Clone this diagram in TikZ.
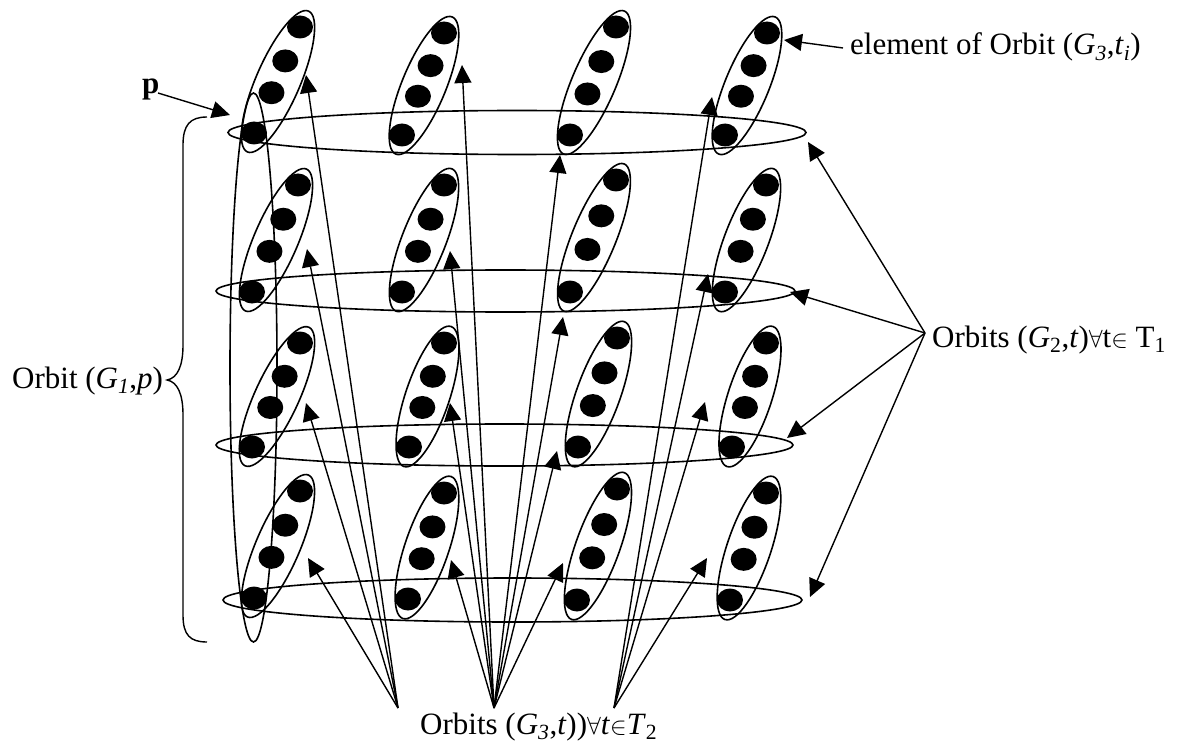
\documentclass[tikz,border=0pt]{standalone}
\usepackage{fontspec}
\setmainfont{Liberation Serif}
\usetikzlibrary{arrows.meta,calc}
\tikzset{
  ellline/.style={line width=1.6pt},
  arr/.style={line width=1.4pt,-{Triangle[length=18pt,width=17pt]}},
  lab/.style={inner sep=0pt, font=\fontsize{31}{36}\selectfont},
  dotfill/.style={fill=black},
}
\newcommand{\orbitcell}[5]{%
  \pgfmathsetmacro\cellang{atan2(#5-#3,#2-#4)}%
  \pgfmathsetmacro\cellhalf{0.5*veclen(#2-#4,#5-#3)+19}%
  \coordinate (#1t) at (#2,#3);
  \coordinate (#1b) at (#4,#5);
  \coordinate (#1c) at ($(#1b)!0.5!(#1t)+(1,1.5)$);
  \draw[ellline, rotate around={\cellang:(#1c)}] (#1c) ellipse [x radius=\cellhalf pt, y radius=22pt];
  \foreach \f in {0,0.38,0.68,1} \fill[dotfill] ($(#1b)!\f!(#1t)$) ellipse [x radius=13pt, y radius=11.5pt];
}
\begin{document}
\begin{tikzpicture}[x=1pt,y=-1pt]
\fill[white] (0,0) rectangle (1178,746);
\useasboundingbox (0,0) rectangle (1178,746);

% tilted orbit cells (top dot, bottom dot)
\orbitcell{r1c1}{300}{27}{254}{133}
\orbitcell{r1c2}{444}{33}{402}{135}
\orbitcell{r1c3}{616}{27}{570}{135}
\orbitcell{r1c4}{767}{33}{725}{135}
\orbitcell{r2c1}{298}{185}{252}{292}
\orbitcell{r2c2}{444}{185}{402}{292}
\orbitcell{r2c3}{616}{180}{570}{292}
\orbitcell{r2c4}{766}{185}{725}{292}
\orbitcell{r3c1}{300}{343}{252}{447}
\orbitcell{r3c2}{444}{343}{409}{447}
\orbitcell{r3c3}{617}{338}{578}{447}
\orbitcell{r3c4}{766}{343}{732}{447}
\orbitcell{r4c1}{300}{491}{254}{598}
\orbitcell{r4c2}{444}{493}{408}{599}
\orbitcell{r4c3}{617}{489}{577}{600}
\orbitcell{r4c4}{766}{493}{730}{600}

% horizontal orbits
\draw[ellline] (517,132.5) ellipse [x radius=289pt, y radius=22pt];
\draw[ellline] (505.5,291) ellipse [x radius=289.5pt, y radius=21pt];
\draw[ellline] (504.5,445) ellipse [x radius=288.5pt, y radius=21pt];
\draw[ellline] (512.5,600) ellipse [x radius=289.5pt, y radius=22pt];

% vertical orbit
\draw[ellline] (253.5,367.5) ellipse [x radius=23.5pt, y radius=274.5pt];

% brace
\draw[line width=1.4pt] (207,117) .. controls (190,117) and (183,125) .. (183,145)
  -- (183,345) .. controls (183,365) and (178,378) .. (167,380)
  .. controls (178,382) and (183,395) .. (183,415)
  -- (183,615) .. controls (183,635) and (190,642) .. (207,642);

% labels
\node[lab, anchor=base west] (plab) at (142,94) {\textbf{p}};
\node[lab, anchor=base west] (elab) at (850,55) {element of Orbit (\textit{G}\textsubscript{\textit{3}},\textit{t}\textsubscript{\textit{i}})};
\node[lab, anchor=base west] (g2lab) at (932,347) {Orbits (\textit{G}\textsubscript{2},\textit{t})$\forall$t$\in$ T\textsubscript{1}};
\node[lab, anchor=base west] (g1lab) at (12,388) {Orbit (\textit{G}\textsubscript{\textit{1}},\textit{p})};
\node[lab, anchor=base west] (g3lab) at (420,734) {Orbits (\textit{G}\textsubscript{\textit{3}},\textit{t}))$\forall$\textit{t}$\in$\textit{T}\textsubscript{2}};

% arrow end points
\coordinate (ptail) at (158,93);
\coordinate (ptip) at (230,115);
\coordinate (etail) at (843,48);
\coordinate (etip) at (784,40);
\coordinate (g2src) at (925,333);
\coordinate (h1) at (808,142);
\coordinate (h2) at (790,292);
\coordinate (h3) at (787,438);
\coordinate (h4) at (810,597);
\coordinate (s1) at (398,708);
\coordinate (s2) at (494,708);
\coordinate (s3) at (614,708);
\coordinate (a11) at (306,75);
\coordinate (a12) at (462,65);
\coordinate (a13) at (560,155);
\coordinate (a14) at (712,97);
\coordinate (a21) at (307,249);
\coordinate (a22) at (450,251);
\coordinate (a23) at (563,317);
\coordinate (a24) at (708,274);
\coordinate (a31) at (306,403);
\coordinate (a32) at (450,403);
\coordinate (a33) at (557,451);
\coordinate (a34) at (705,402);
\coordinate (a41) at (308,558);
\coordinate (a42) at (451,560);
\coordinate (a43) at (563,563);
\coordinate (a44) at (707,558);

\draw[arr] (ptail) -- (ptip);
\draw[arr] (etail) -- (etip);
\foreach \h in {h1,h2,h3,h4} \draw[arr] (g2src) -- (\h);
\foreach \r in {1,2,3,4} {
  \draw[arr] (s1) -- (a\r1);
  \draw[arr] (s2) -- (a\r2);
  \draw[arr] (s2) -- (a\r3);
  \draw[arr] (s3) -- (a\r4);
}
\end{tikzpicture}
\end{document}
